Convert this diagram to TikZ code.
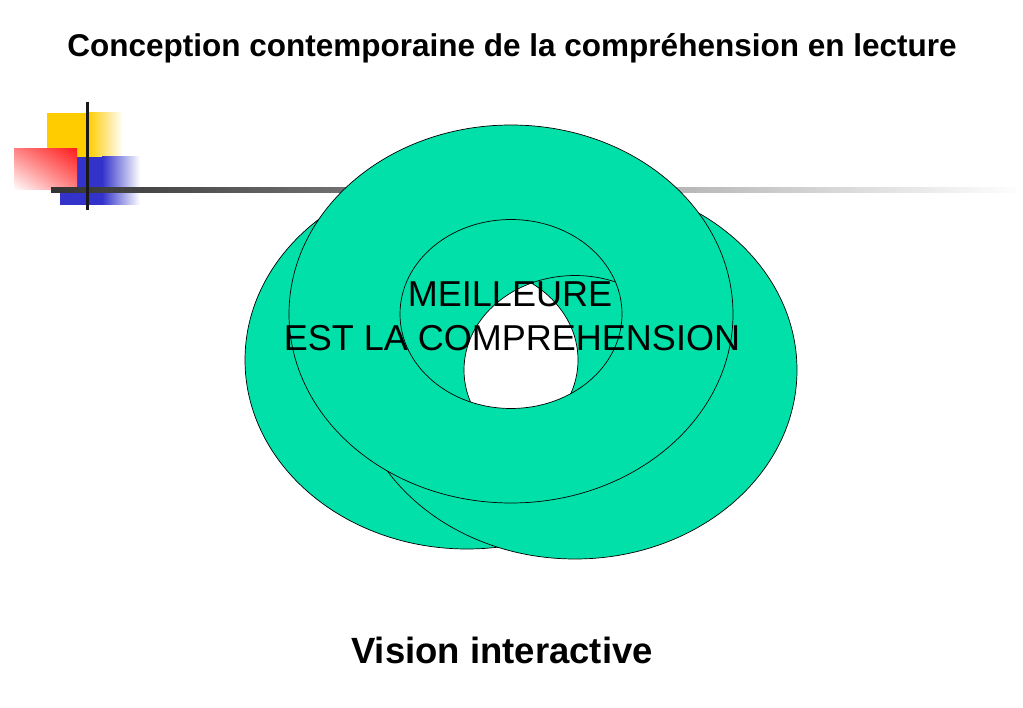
\documentclass[tikz,border=0pt]{standalone}
\usepackage{fontspec}
\setmainfont{Liberation Sans}
\usetikzlibrary{shadings}
\definecolor{donut}{RGB}{0,224,168}
\definecolor{pixyellow}{RGB}{255,204,0}
\definecolor{pixblue}{RGB}{51,51,204}
\definecolor{pixred}{RGB}{255,30,30}
\tikzset{ring/.style={draw=black, line width=0.7pt, fill=donut, even odd rule},
  label36/.style={anchor=base, font=\fontsize{36}{44}\selectfont}}

\begin{document}
\begin{tikzpicture}[x=1pt, y=-1pt]
      \useasboundingbox (0,0) rectangle (1023,708);

      \fill [pixyellow] (47,113) rectangle (88,157);
      \shade [left color=pixyellow, right color=white] (88,113) rectangle (123,157);
      \fill [pixblue] (60,157) rectangle (102,205);
      \shade [left color=pixblue, right color=white] (102,157) rectangle (140,205);
      \shade [upper right=pixred, lower left=white, upper left=pixred!55!white, lower right=pixred!55!white] (14,149) rectangle (77,190);
      \shade [left color=black!80, right color=white] (51,188) rectangle (1023,193);
      \draw [line width=3pt, black!90] (87,102) -- (87,210);

      \node [anchor=base, font=\bfseries\fontsize{31.5}{38}\selectfont] (title) at (512,57) {Conception contemporaine de la compréhension en lecture};

      \coordinate (left) at (467,360);
      \coordinate (right) at (575,370);
      \coordinate (top) at (511,314);
      \foreach \c in {left,right,top}
        \path [ring] (\c) ellipse [x radius=222pt, y radius=189pt] (\c) ellipse [x radius=111pt, y radius=94.5pt];

      \node [label36] (best) at (510,307) {MEILLEURE};
      \node [label36] (comp) at (512,351) {EST LA COMPREHENSION};

      \node [label36, font=\bfseries\fontsize{36.5}{44}\selectfont] (vision) at (502,663) {Vision interactive};
    \end{tikzpicture}
\end{document}
